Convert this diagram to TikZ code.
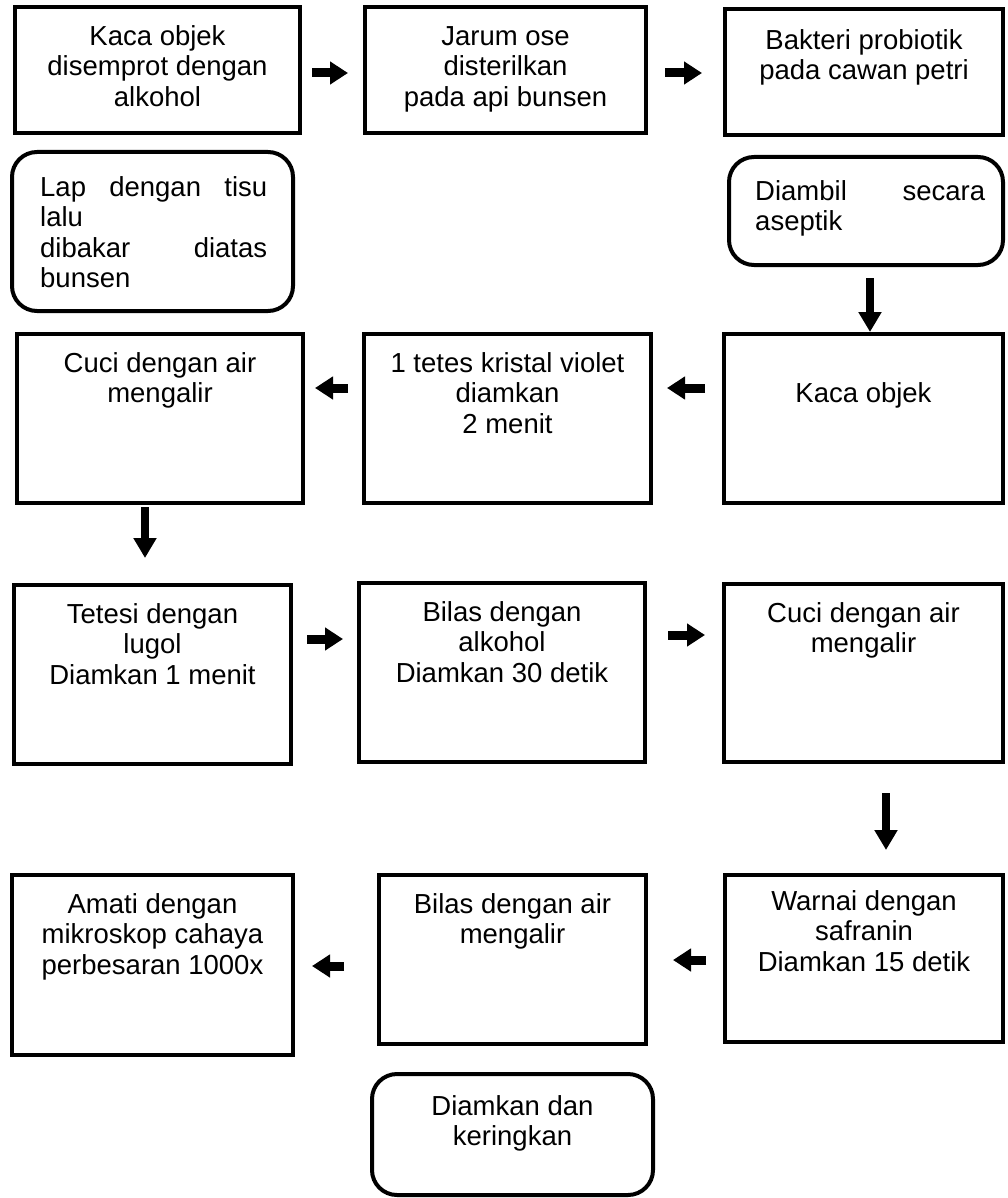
\documentclass[tikz,border=0pt]{standalone}
\usepackage{fontspec}
\setmainfont{Liberation Sans}
\usetikzlibrary{arrows.meta}
\newcommand\mystrut{\rule{0pt}{21pt}}
\begin{document}
\begin{tikzpicture}[x=1pt,y=-1pt,
  box/.style={draw=black, line width=4pt, inner sep=0pt, rectangle},
  rbox/.style={box, rounded corners=25pt},
  txt/.style={anchor=north, align=center, inner sep=0pt, font=\fontsize{27.5}{30.5}\selectfont},
  jtxt/.style={txt, anchor=north west, align=left},
  harrow/.style={line width=9pt, -{Triangle[length=18pt,width=22pt]}},
  varrow/.style={line width=7.5pt, -{Triangle[length=20pt,width=22pt]}}]
\path[fill=white] (0,0) rectangle (1007,1198);
\useasboundingbox (0,0) rectangle (1007,1198);

% row 1
\node[box, minimum width=285pt, minimum height=126pt] (b1) at (157.5,70) {};
\node[box, minimum width=281pt, minimum height=126pt] (b2) at (505.5,70) {};
\node[box, minimum width=278pt, minimum height=126pt] (b3) at (864,72) {};
\node[txt] (b1t) at (157.5,24) {\mystrut Kaca objek\\disemprot dengan\\alkohol};
\node[txt] (b2t) at (505.5,24) {\mystrut Jarum ose\\disterilkan\\pada api bunsen};
\node[txt] (b3t) at (864,28) {\mystrut Bakteri probiotik\\pada cawan petri};

% row 2
\node[rbox, minimum width=281pt, minimum height=159pt] (r1) at (152.5,231.5) {};
\node[rbox, minimum width=274pt, minimum height=108pt] (r2) at (866,211) {};
\node[jtxt] (r1t) at (40,175) {\mystrut\makebox[227pt][s]{Lap dengan tisu}\\lalu\\\makebox[227pt][s]{dibakar diatas}\\bunsen};
\node[jtxt] (r2t) at (755,179) {\mystrut\makebox[230pt][s]{Diambil secara}\\aseptik};

% row 3
\node[box, minimum width=286pt, minimum height=169pt] (c1) at (160,418.5) {};
\node[box, minimum width=287pt, minimum height=169pt] (v) at (507.5,418.5) {};
\node[box, minimum width=279pt, minimum height=169pt] (k) at (863.5,418.5) {};
\node[txt] (c1t) at (160,351) {\mystrut Cuci dengan air\\mengalir};
\node[txt] (vt) at (507.5,351) {\mystrut 1 tetes kristal violet\\diamkan\\2 menit};
\node[txt] (kt) at (863.5,381) {\mystrut Kaca objek};

% row 4
\node[box, minimum width=277pt, minimum height=179pt] (t) at (152.5,674.5) {};
\node[box, minimum width=286pt, minimum height=179pt] (ba) at (502,672.5) {};
\node[box, minimum width=279pt, minimum height=178pt] (c2) at (863.5,673) {};
\node[txt] (tt) at (152.5,602) {\mystrut Tetesi dengan\\lugol\\Diamkan 1 menit};
\node[txt] (bat) at (502,600) {\mystrut Bilas dengan\\alkohol\\Diamkan 30 detik};
\node[txt] (c2t) at (863.5,601) {\mystrut Cuci dengan air\\mengalir};

% row 5
\node[box, minimum width=281pt, minimum height=180pt] (a) at (152.5,965) {};
\node[box, minimum width=267pt, minimum height=169pt] (bw) at (512.5,959.5) {};
\node[box, minimum width=278pt, minimum height=167pt] (w) at (864,958.5) {};
\node[txt] (at) at (152.5,892) {\mystrut Amati dengan\\mikroskop cahaya\\perbesaran 1000x};
\node[txt] (bwt) at (512.5,892) {\mystrut Bilas dengan air\\mengalir};
\node[txt] (wt) at (864,889) {\mystrut Warnai dengan\\safranin\\Diamkan 15 detik};

% bottom
\node[rbox, minimum width=281pt, minimum height=121pt] (d) at (512.5,1134.5) {};
\node[txt] (dt) at (512.5,1094) {\mystrut Diamkan dan\\keringkan};

% arrows
\draw[harrow, shorten <=10pt, shorten >=15pt] (b1.east |- 0,73) -- (b2.west |- 0,73);
\draw[harrow, shorten <=17pt, shorten >=21pt] (b2.east |- 0,73) -- (b3.west |- 0,73);
\draw[varrow, shorten <=11pt] (r2.south -| 870,0) -- (k.north -| 870,0);
\draw[harrow, shorten <=17pt, shorten >=14pt] (k.west |- 0,388) -- (v.east |- 0,388);
\draw[harrow, shorten <=14pt, shorten >=10pt] (v.west |- 0,388) -- (c1.east |- 0,388);
\draw[varrow, shorten <=2pt, shorten >=25pt] (c1.south -| 145,0) -- (t.north -| 145,0);
\draw[harrow, shorten <=14pt, shorten >=14pt] (t.east |- 0,639) -- (ba.west |- 0,639);
\draw[harrow, shorten <=21pt, shorten >=17pt] (ba.east |- 0,635) -- (c2.west |- 0,635);
\draw[varrow, shorten <=29pt, shorten >=23pt] (c2.south -| 886,0) -- (w.north -| 886,0);
\draw[harrow, shorten <=17pt, shorten >=25pt] (w.west |- 0,960) -- (bw.east |- 0,960);
\draw[harrow, shorten <=33pt, shorten >=17pt] (bw.west |- 0,966) -- (a.east |- 0,966);
\end{tikzpicture}
\end{document}
